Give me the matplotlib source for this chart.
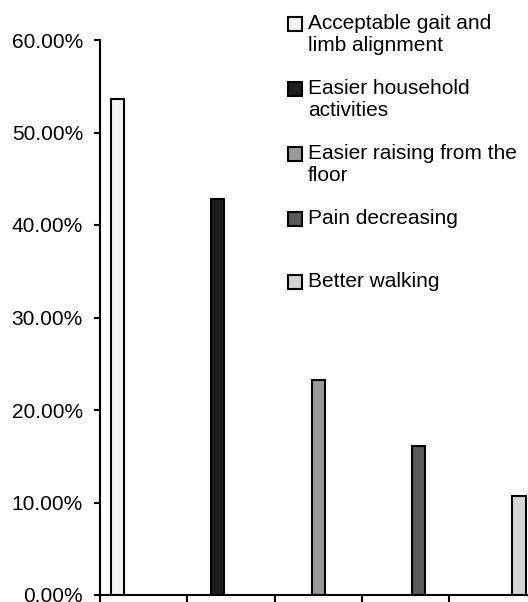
from matplotlib import pyplot as plt
from matplotlib.patches import Rectangle
from matplotlib.ticker import PercentFormatter
import numpy as np

plt.rcParams['font.family'] = ['Liberation Sans', 'DejaVu Sans']

labels = ['Acceptable gait and\nlimb alignment',
          'Easier household\nactivities',
          'Easier raising from the\nfloor',
          'Pain decreasing',
          'Better walking']
values = [53.57, 42.86, 23.21, 16.07, 10.71]
colors = ['#f2f2f2', '#1f1f1f', '#999999', '#595959', '#d4d4d4']

W, H = 528, 602
fig = plt.figure(figsize=(W / 100, H / 100), dpi=100)
ax = fig.add_axes([100 / W, 7 / H, 436.5 / W, 555 / H])

# clustered layout: 5 categories x 5 series, only the diagonal has a value
n = len(values)
bw = 0.15
for i, (v, c) in enumerate(zip(values, colors)):
    x = i + 0.125 + bw * i + bw / 2
    ax.bar(x, v / 100, width=bw, color=c, edgecolor='black', linewidth=1.5)

ax.set_xlim(0, n)
ax.set_ylim(0, 0.6)
ax.set_xticks(np.arange(n + 1))
ax.set_xticklabels([])
ax.set_yticks(np.arange(0, 0.61, 0.1))
ax.yaxis.set_major_formatter(PercentFormatter(1.0, decimals=2))

for s in ['top', 'right']:
    ax.spines[s].set_visible(False)
for s in ['left', 'bottom']:
    ax.spines[s].set_linewidth(1.5)
ax.tick_params(axis='y', direction='out', length=4.3, width=1.5, pad=8, labelsize=15)
ax.tick_params(axis='x', direction='out', length=5, width=1.5)

# legend drawn by hand, Excel-style even slots
tops = [16, 81, 146, 211, 274]
for lab, c, t in zip(labels, colors, tops):
    fig.add_artist(Rectangle((287.5 / W, 1 - (t + 15) / H), 14 / W, 14 / H,
                             facecolor=c, edgecolor='black', linewidth=1.5,
                             transform=fig.transFigure))
    fig.text(308 / W, 1 - (t - 2) / H, lab, fontsize=15, va='top', ha='left',
             linespacing=1.2)

plt.savefig('out.png', dpi=100)
